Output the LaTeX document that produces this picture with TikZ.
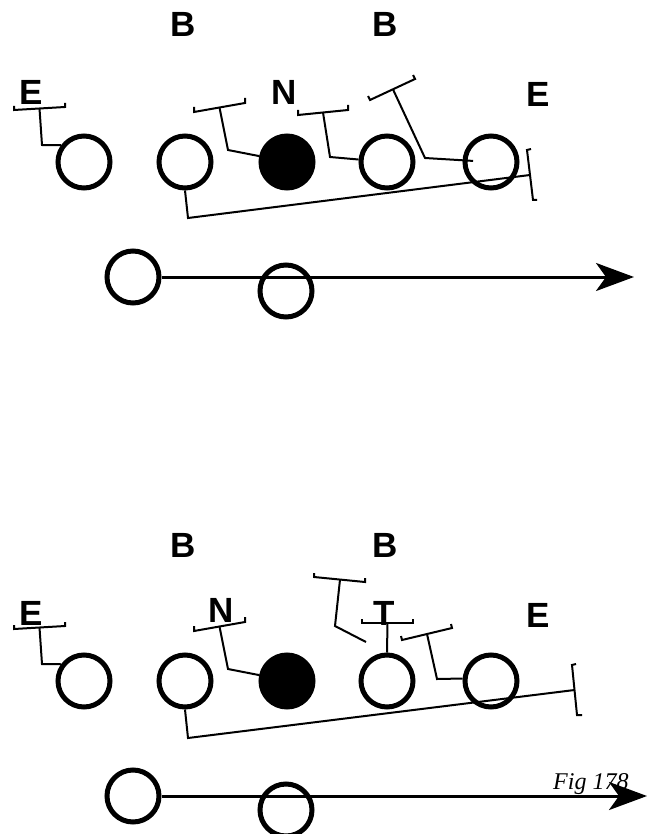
\documentclass[tikz,border=0pt]{standalone}
\usepackage{fontspec}
\setmainfont{Liberation Serif}
\setsansfont{Liberation Sans}
\usetikzlibrary{arrows.meta}

\tikzset{
  player/.style={circle,draw,line width=5pt,minimum size=52pt,inner sep=0pt},
  snap/.style={player,fill=black},
  tag/.style={font=\sffamily\bfseries\fontsize{35}{35}\selectfont,anchor=base,inner sep=0pt},
  block/.style={line width=2pt},
  motion/.style={line width=3pt,-{Stealth[length=38pt,width=28pt,inset=10pt]}},
}

\begin{document}
\begin{tikzpicture}[x=1pt,y=-1pt]
\useasboundingbox (0,0) rectangle (647,834);

\begin{scope}
  \node[tag] (b1) at (183,37) {B};
  \node[tag] (b2) at (385,37) {B};
  \node[tag] (e1) at (31,105) {E};
  \node[tag] (n) at (284,105) {N};
  \node[tag] (e2) at (538,107) {E};

  \node[player] (p1) at (84,162) {};
  \node[player] (p2) at (185,162) {};
  \node[snap] (c) at (287,162) {};
  \node[player] (p4) at (387,162) {};
  \node[player] (p5) at (491,162) {};
  \node[player] (q1) at (133,277) {};
  \node[player] (q2) at (286,291) {};
  \coordinate (goal) at (634,277);

  \draw[block] (14,106) -- (14,110) -- coordinate[pos=.5] (s1) (65,107) -- (65,103);
  \draw[block] (s1) -- (42,145) -- (p1.144);
  \draw[block] (194,107) -- (194,112) -- coordinate[pos=.5] (s2) (245,103) -- (245,98);
  \draw[block] (s2) -- (228,150) -- (c.168);
  \draw[block] (298,110) -- (298,115) -- coordinate[pos=.5] (s3) (348,110) -- (348,105);
  \draw[block] (s3) -- (330,157) -- (p4.175);
  \draw[block] (368,96) -- (370,100) -- coordinate[pos=.51] (s4) (415,79) -- (413,75);
  \draw[block,shorten >=18pt] (s4) -- (425,158) -- (p5.center);
  \draw[block] (531,149) -- (527,150) -- coordinate[pos=.5] (r1) (533,200) -- (537,200);
  \draw[block] (p2.south) -- (188,218) -- (r1);

  \draw[motion] (q1) -- (goal);
\end{scope}

\begin{scope}[shift={(0,519)}]
  \node[tag] (b3) at (183,38) {B};
  \node[tag] (b4) at (385,38) {B};
  \node[tag] (e3) at (31,106) {E};
  \node[tag] (n2) at (221,103) {N};
  \node[tag] (t) at (384,106) {T};
  \node[tag] (e4) at (538,108) {E};

  \node[player] (p6) at (84,162) {};
  \node[player] (p7) at (185,162) {};
  \node[snap] (c2) at (287,162) {};
  \node[player] (p9) at (387,162) {};
  \node[player] (p10) at (491,162) {};
  \node[player] (q3) at (133,277) {};
  \node[player] (q4) at (286,291) {};
  \coordinate (goal2) at (647,277);
  \coordinate (free) at (366,123);

  \draw[block] (14,106) -- (14,110) -- coordinate[pos=.5] (s5) (65,107) -- (65,103);
  \draw[block] (s5) -- (42,145) -- (p6.144);
  \draw[block] (194,107) -- (194,112) -- coordinate[pos=.5] (s6) (245,103) -- (245,98);
  \draw[block] (s6) -- (228,150) -- (c2.168);
  \draw[block] (314,54) -- (314,58) -- coordinate[pos=.51] (s7) (365,63) -- (365,59);
  \draw[block] (s7) -- (335,107) -- (free);
  \draw[block] (362,100) -- (362,104) -- coordinate[pos=.5] (s8) (413,104) -- (413,100);
  \draw[block] (s8) -- (p9.north);
  \draw[block] (401,117) -- (402,121) -- coordinate[pos=.5] (s9) (452,109) -- (451,105);
  \draw[block] (s9) -- (437,160) -- (p10.175);
  \draw[block] (576,145) -- (572,146) -- coordinate[pos=.5] (r2) (577,196) -- (582,196);
  \draw[block] (p7.south) -- (188,219) -- (r2);

  \node[font=\itshape\fontsize{24}{24}\selectfont,anchor=base west,inner sep=0pt] (fig) at (553,270) {Fig 178};
  \draw[motion] (q3) -- (goal2);
\end{scope}
\end{tikzpicture}
\end{document}
